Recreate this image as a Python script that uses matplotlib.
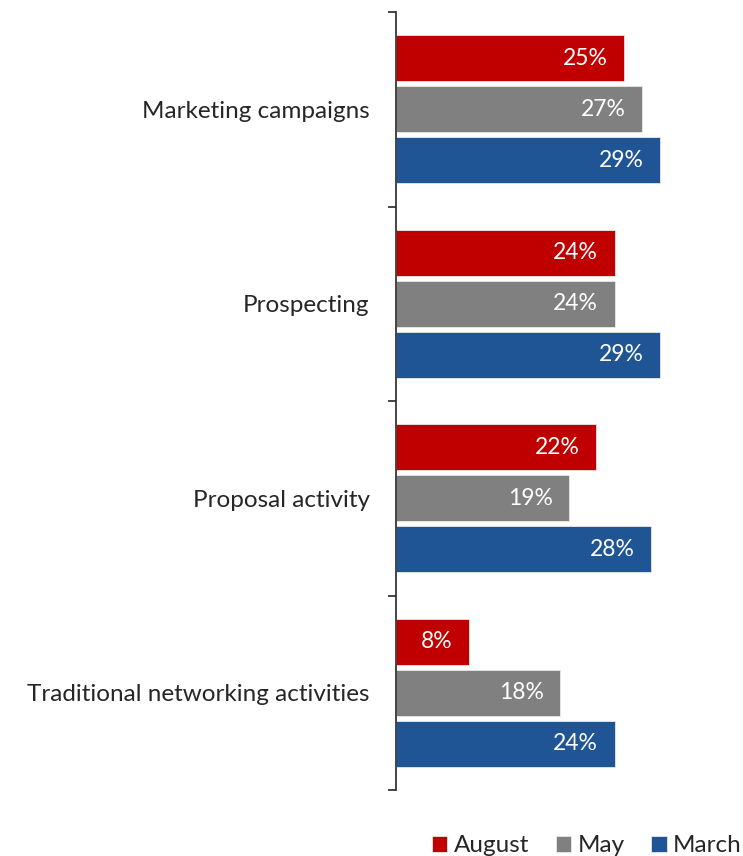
import matplotlib
matplotlib.use("Agg")
import matplotlib.pyplot as plt
import numpy as np

plt.rcParams['font.family'] = ['Lato', 'DejaVu Sans']

categories = ["Marketing campaigns", "Prospecting", "Proposal activity",
              "Traditional networking activities"]
series_names = ["August", "May", "March"]
august = [25, 24, 22, 8]
may = [27, 24, 19, 18]
march = [29, 29, 28, 24]
colors = ["#C00000", "#808080", "#1F5594"]

fig = plt.figure(figsize=(7.43, 8.56), dpi=100)
ax = fig.add_axes([396 / 743, 1 - 790 / 856, 1 - 396 / 743, (790 - 12) / 856])

centers = np.arange(len(categories)) + 0.5
offsets = [-0.263, 0.0, 0.263]
bar_h = 0.236
handles = []
for vals, off, col, name in zip([august, may, march], offsets, colors, series_names):
    bars = ax.barh(centers + off, vals, height=bar_h, color=col,
                   edgecolor="#e8e8e8", linewidth=0.6, label=name)
    handles.append(bars)
    for b, v in zip(bars, vals):
        ax.text(v - 1.8, b.get_y() + b.get_height() / 2, f"{v}%",
                ha="right", va="center", color="white", fontsize=16.5)

ax.set_xlim(0, 38.1)
ax.set_ylim(len(categories), 0)
ax.set_yticks(np.arange(len(categories) + 1))
ax.set_yticklabels([])
ax.set_yticks(centers, minor=True)
ax.set_yticklabels(categories, minor=True, fontsize=17.5, color="#262626")
ax.tick_params(axis="y", which="major", direction="out", length=6, width=1.2, color="#262626")
ax.tick_params(axis="y", which="minor", length=0, pad=19)
ax.set_xticks([])
for s in ["top", "right", "bottom"]:
    ax.spines[s].set_visible(False)
ax.spines["left"].set_linewidth(1.2)
ax.spines["left"].set_color("#262626")

fig.legend(handles=handles, loc="lower right", bbox_to_anchor=(1.028, -0.026), ncol=3,
           frameon=False, fontsize=17.5, handlelength=0.65, handleheight=0.65,
           handletextpad=0.25, columnspacing=1.1, labelcolor="#262626")

fig.savefig("out.png", dpi=100)
